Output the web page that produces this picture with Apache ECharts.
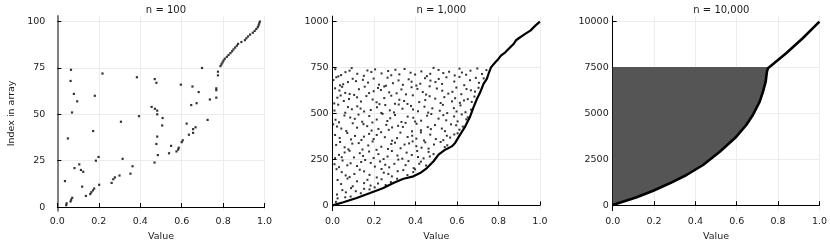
<!DOCTYPE html>
<html><head><meta charset="utf-8">
<script src="https://cdn.jsdelivr.net/npm/echarts@6/dist/echarts.min.js"></script>
<style>html,body{margin:0;padding:0;background:#fff}#c{width:830px;height:249px}</style>
</head><body><div id="c"></div>
<script>
// ---------- data ----------
const titles = ['n = 100', 'n = 1,000', 'n = 10,000'];
const xTicks = [0, 0.2, 0.4, 0.6, 0.8, 1.0];
const yTicks100 = [0, 25, 50, 75, 100];
const yTicks1000 = [0, 250, 500, 750, 1000];
const yTicks10000 = [0, 2500, 5000, 7500, 10000];

// n = 100 : value at index 1..100
const values100 = [
  0.043, 0.045, 0.064, 0.067, 0.072, 0.138, 0.159, 0.164, 0.172, 0.178,
  0.120, 0.202, 0.262, 0.037, 0.270, 0.278, 0.300, 0.353, 0.125, 0.114,
  0.083, 0.363, 0.106, 0.469, 0.186, 0.315, 0.199, 0.485, 0.539, 0.575,
  0.583, 0.586, 0.549, 0.478, 0.600, 0.605, 0.051, 0.482, 0.635, 0.655,
  0.173, 0.655, 0.667, 0.506, 0.624, 0.307, 0.725, 0.508, 0.394, 0.482,
  0.071, 0.482, 0.471, 0.455, 0.646, 0.672, 0.096, 0.736, 0.767, 0.181,
  0.080, 0.682, 0.767, 0.767, 0.652, 0.596, 0.478, 0.064, 0.470, 0.384,
  0.775, 0.218, 0.775, 0.066, 0.698, 0.787, 0.792, 0.797, 0.802, 0.808,
  0.818, 0.826, 0.835, 0.843, 0.850, 0.858, 0.866, 0.872, 0.888, 0.905,
  0.912, 0.920, 0.930, 0.943, 0.952, 0.960, 0.967, 0.971, 0.974, 0.977
];

// n = 1,000 : scattered (value, index) points above the lower envelope
const scatter1000 = [
  [0.303,738],[0.041,709],[0.612,744],[0.187,726],[0.455,703],[0.092,747],[0.721,715],[0.268,731],[0.534,720],[0.013,741],[0.398,712],[0.665,733],[0.151,705],[0.487,748],[0.236,718],[0.589,707],[0.062,725],[0.347,742],[0.742,736],[0.119,716],[0.428,729],[0.205,740],[0.644,711],[0.511,737],[0.028,702],[0.376,722],[0.698,745],[0.168,734],[0.562,727],[0.283,708],[0.471,716],[0.082,733],[0.624,723],[0.322,713],
  [0.512,688],[0.074,671],[0.339,656],[0.691,694],[0.146,683],[0.423,662],[0.018,697],[0.587,674],[0.257,651],[0.706,667],[0.198,690],[0.472,679],[0.051,659],[0.367,686],[0.635,654],[0.113,676],[0.549,697],[0.291,665],[0.004,682],[0.446,692],[0.224,657],[0.663,681],[0.381,673],[0.097,689],[0.528,661],[0.171,668],[0.612,699],[0.318,680],[0.036,653],[0.496,671],[0.729,691],[0.265,695],[0.404,652],
  [0.233,628],[0.597,641],[0.061,612],[0.409,634],[0.687,619],[0.155,646],[0.354,604],[0.529,624],[0.012,637],[0.273,615],[0.646,633],[0.104,601],[0.468,648],[0.198,621],[0.558,608],[0.381,643],[0.033,625],[0.704,640],[0.309,610],[0.127,632],[0.435,617],[0.621,605],[0.249,647],[0.082,606],[0.503,636],[0.176,611],[0.667,626],[0.332,631],[0.451,603],[0.046,645],[0.578,618],[0.219,639],
  [0.447,573],[0.023,586],[0.614,558],[0.283,597],[0.137,565],[0.539,589],[0.361,552],[0.079,579],[0.684,592],[0.212,561],[0.495,581],[0.008,555],[0.322,575],[0.576,566],[0.163,595],[0.418,562],[0.652,578],[0.249,584],[0.054,568],[0.387,599],[0.521,557],[0.118,588],[0.634,571],[0.301,553],[0.193,576],[0.468,594],[0.039,598],[0.591,583],[0.345,568],[0.226,551],[0.671,563],
  [0.093,523],[0.378,541],[0.641,507],[0.214,534],[0.517,515],[0.027,548],[0.296,506],[0.585,529],[0.152,511],[0.443,537],[0.668,521],[0.061,504],[0.337,526],[0.254,546],[0.553,502],[0.119,539],[0.412,512],[0.617,544],[0.184,519],[0.481,528],[0.009,516],[0.319,549],[0.598,511],[0.235,503],[0.388,522],[0.074,535],[0.532,547],[0.276,517],[0.461,505],[0.135,527],
  [0.548,463],[0.177,486],[0.031,452],[0.389,477],[0.623,495],[0.264,459],[0.107,471],[0.476,497],[0.332,454],[0.652,479],[0.213,467],[0.057,489],[0.427,461],[0.586,484],[0.143,455],[0.301,492],[0.511,472],[0.014,466],[0.362,483],[0.241,498],[0.603,457],[0.085,478],[0.456,488],[0.192,451],[0.534,491],[0.278,474],[0.398,456],[0.125,494],[0.645,468],
  [0.316,433],[0.042,418],[0.571,441],[0.188,407],[0.459,426],[0.097,447],[0.612,412],[0.259,438],[0.383,403],[0.021,429],[0.527,418],[0.149,442],[0.426,409],[0.287,424],[0.596,436],[0.066,405],[0.352,449],[0.221,416],[0.494,437],[0.118,423],[0.628,429],[0.405,444],[0.167,431],[0.542,404],[0.003,441],[0.271,411],[0.474,415],[0.339,427],
  [0.213,383],[0.498,361],[0.071,394],[0.362,372],[0.587,386],[0.139,356],[0.426,397],[0.034,367],[0.287,352],[0.551,379],[0.176,389],[0.404,363],[0.252,371],[0.603,392],[0.108,378],[0.471,385],[0.327,396],[0.012,383],[0.534,355],[0.198,361],[0.384,379],[0.089,359],[0.441,353],[0.234,398],[0.311,366],[0.567,369],[0.151,374],
  [0.404,322],[0.126,339],[0.267,307],[0.521,345],[0.058,316],[0.347,331],[0.193,348],[0.463,309],[0.017,329],[0.301,341],[0.553,327],[0.144,304],[0.386,348],[0.235,319],[0.095,336],[0.489,331],[0.328,311],[0.036,345],[0.429,314],[0.172,326],[0.283,334],[0.541,317],[0.212,302],[0.369,337],[0.076,305],[0.447,343],
  [0.221,279],[0.412,263],[0.058,288],[0.336,254],[0.147,269],[0.463,291],[0.012,257],[0.286,296],[0.382,274],[0.103,261],[0.246,252],[0.487,279],[0.176,293],[0.031,275],[0.357,287],[0.439,256],[0.265,266],[0.082,297],[0.198,258],[0.313,271],[0.131,284],[0.408,296],[0.469,266],[0.044,262],
  [0.184,231],[0.352,219],[0.048,244],[0.273,207],[0.426,238],[0.118,214],[0.317,249],[0.009,224],[0.229,239],[0.391,203],[0.157,247],[0.451,217],[0.087,229],[0.298,226],[0.204,211],[0.366,241],[0.031,208],[0.254,221],[0.138,236],[0.418,226],[0.071,218],
  [0.247,178],[0.063,163],[0.341,192],[0.152,185],[0.019,197],[0.286,158],[0.389,181],[0.105,171],[0.213,152],[0.361,165],[0.044,181],[0.178,166],[0.314,186],[0.131,194],[0.236,198],[0.082,154],[0.398,196],[0.269,171],
  [0.118,131],[0.236,142],[0.041,116],[0.183,108],[0.281,127],[0.072,146],[0.152,121],[0.024,138],[0.219,119],[0.097,104],[0.311,145],[0.168,139],[0.256,111],
  [0.047,83],[0.136,66],[0.089,94],[0.178,87],[0.021,59],[0.112,77],[0.203,98],[0.064,71],[0.152,90],
  [0.024,38],[0.061,44],[0.016,19],[0.087,48]
];
// n = 1,000 : dense lower envelope + sorted tail
const curve1000 = [
  [0.0,0],[0.003,4],[0.052,17],[0.116,40],[0.181,67],[0.245,95],[0.293,122],[0.342,145],[0.390,158],
  [0.422,176],[0.455,203],[0.487,240],[0.511,276],[0.543,303],[0.575,321],[0.591,340],[0.615,385],
  [0.640,430],[0.664,485],[0.680,535],[0.696,579],[0.712,615],[0.728,661],[0.744,688],[0.752,715],
  [0.764,751],[0.768,760],[0.785,779],[0.800,797],[0.812,815],[0.833,833],[0.857,860],[0.873,878],
  [0.886,900],[0.905,915],[0.929,933],[0.954,951],[0.978,978],[1.0,1000]
];
// n = 10,000 : lower envelope + sorted tail
const curve10000 = [
  [0.0,11],[0.075,284],[0.116,430],[0.196,790],[0.276,1193],[0.357,1645],[0.437,2190],[0.518,2914],
  [0.598,3731],[0.646,4368],[0.678,4913],[0.711,5639],[0.727,6183],[0.740,6728],[0.746,7273],
  [0.751,7455],[0.759,7545],[0.839,8273],[0.919,9092],[1.0,10000]
];
// n = 10,000 : outline of the densely filled region of scattered points
const cloud10000 = [
  [0.0,7530],[0.751,7530],[0.746,7273],[0.740,6728],[0.727,6183],[0.711,5639],[0.678,4913],[0.646,4368],
  [0.598,3731],[0.518,2914],[0.437,2190],[0.357,1645],[0.276,1193],[0.196,790],[0.116,430],[0.075,284],[0.0,11]
];

// ---------- layout ----------
const FONT = 'DejaVu Sans';
const TXT = '#1a1a1a';
const gridLefts = [57.3, 332.6, 612.7];
const gridW = 207.3;
const yRanges = [[-1.97, 102.97], [-28.97, 1029.97], [-298.97, 10298.97]];
const yTickSets = [yTicks100, yTicks1000, yTicks10000];

const grids = gridLefts.map(l => ({ left: l, width: gridW, top: 16.1, height: 194.6 }));
const xAxes = grids.map((g, i) => ({
  type: 'value', gridIndex: i, min: 0, max: 1, interval: 0.2,
  name: 'Value', nameLocation: 'middle', nameGap: 21,
  nameTextStyle: { fontFamily: FONT, fontSize: 9.5, color: TXT },
  axisLine: { show: true, lineStyle: { color: '#000', width: 1 } },
  axisTick: { show: true, inside: true, length: 4, lineStyle: { color: '#000' }, customValues: xTicks },
  axisLabel: { fontFamily: FONT, fontSize: 9.5, color: TXT, margin: 6, customValues: xTicks,
    formatter: v => Number(v).toFixed(1) },
  splitLine: { show: true, lineStyle: { color: '#ececec', width: 1 } }
}));
const yAxes = grids.map((g, i) => ({
  type: 'value', gridIndex: i, min: yRanges[i][0], max: yRanges[i][1],
  name: i === 0 ? 'Index in array' : '', nameLocation: 'middle', nameGap: 41,
  nameTextStyle: { fontFamily: FONT, fontSize: 9.5, color: TXT },
  axisLine: { show: true, lineStyle: i === 0 ? { color: '#808080', width: 2 } : { color: '#000', width: 1 } },
  axisTick: { show: true, inside: true, length: 4, lineStyle: { color: '#000' }, customValues: yTickSets[i] },
  axisLabel: { fontFamily: FONT, fontSize: 9.5, color: TXT, margin: i === 0 ? 12 : 4,
    customValues: yTickSets[i], formatter: v => String(Math.round(v)) },
  splitLine: { show: true, lineStyle: { color: '#ececec', width: 1 } }
}));

const option = {
  animation: false,
  backgroundColor: '#fff',
  title: titles.map((t, i) => ({
    text: t, left: gridLefts[i] + gridW / 2, top: 0, textAlign: 'center',
    textStyle: { fontFamily: FONT, fontSize: 10, fontWeight: 'normal', color: TXT }
  })),
  grid: grids,
  xAxis: xAxes,
  yAxis: yAxes,
  series: [
    { type: 'scatter', xAxisIndex: 0, yAxisIndex: 0, symbol: 'rect', symbolSize: 2.2,
      itemStyle: { color: '#000' }, data: values100.map((v, k) => [v, k + 1]) },
    { type: 'scatter', xAxisIndex: 1, yAxisIndex: 1, symbol: 'rect', symbolSize: 2,
      itemStyle: { color: '#000' }, data: scatter1000 },
    { type: 'line', xAxisIndex: 1, yAxisIndex: 1, symbol: 'none', smooth: false,
      lineStyle: { color: '#000', width: 2.2 }, data: curve1000 },
    { type: 'custom', xAxisIndex: 2, yAxisIndex: 2, data: [0], clip: true,
      renderItem: (params, api) => ({
        type: 'polygon',
        shape: { points: cloud10000.map(p => api.coord(p)) },
        style: { fill: '#555555' }
      }) },
    { type: 'line', xAxisIndex: 2, yAxisIndex: 2, symbol: 'none',
      lineStyle: { color: '#000', width: 2.6 }, data: curve10000 }
  ]
};
const chart = echarts.init(document.getElementById('c'), null, { renderer: 'canvas' });
chart.setOption(option);
</script></body></html>
